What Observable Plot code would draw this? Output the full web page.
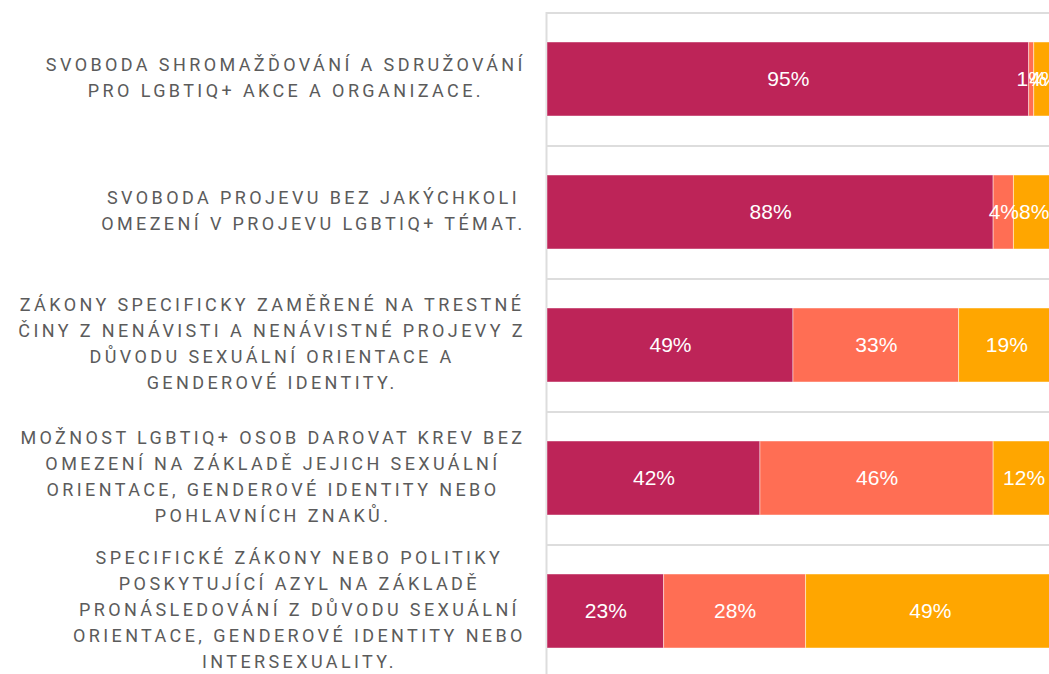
<!DOCTYPE html>
<html><head><meta charset="utf-8">
<script src="https://cdn.jsdelivr.net/npm/d3@7"></script>
<script src="https://cdn.jsdelivr.net/npm/@observablehq/plot@0.6"></script>
<style>html,body{margin:0;padding:0;background:#fff;overflow:hidden}</style>
</head><body><div id="chart"></div>
<script>
const categories = [
  "SVOBODA SHROMAŽĎOVÁNÍ A SDRUŽOVÁNÍ\nPRO LGBTIQ+ AKCE A ORGANIZACE.",
  "SVOBODA PROJEVU BEZ JAKÝCHKOLI\nOMEZENÍ V PROJEVU LGBTIQ+ TÉMAT.",
  "ZÁKONY SPECIFICKY ZAMĚŘENÉ NA TRESTNÉ\nČINY Z NENÁVISTI A NENÁVISTNÉ PROJEVY Z\nDŮVODU SEXUÁLNÍ ORIENTACE A\nGENDEROVÉ IDENTITY.",
  "MOŽNOST LGBTIQ+ OSOB DAROVAT KREV BEZ\nOMEZENÍ NA ZÁKLADĚ JEJICH SEXUÁLNÍ\nORIENTACE, GENDEROVÉ IDENTITY NEBO\nPOHLAVNÍCH ZNAKŮ.",
  "SPECIFICKÉ ZÁKONY NEBO POLITIKY\nPOSKYTUJÍCÍ AZYL NA ZÁKLADĚ\nPRONÁSLEDOVÁNÍ Z DŮVODU SEXUÁLNÍ\nORIENTACE, GENDEROVÉ IDENTITY NEBO\nINTERSEXUALITY."
];
const seriesNames = ["s1", "s2", "s3"];
const seriesColors = ["#bd2458", "#ff6e54", "#ffa600"];
const values1 = [95, 88, 49, 42, 23];
const values2 = [1, 4, 33, 46, 28];
const values3 = [4, 8, 19, 12, 49];

const seriesValues = [values1, values2, values3];
const data = [];
categories.forEach((c, i) => {
  seriesNames.forEach((s, j) => data.push({category: c, series: s, value: seriesValues[j][i]}));
});

const W = 1049, H = 674;
const yRange = [12, 677];
const xRange = [547, 1054];
const step = (yRange[1] - yRange[0]) / categories.length;
const labelFont = "Roboto, sans-serif";
const labelSize = 18;
const ls = 3.4;
const gap = 25;

const canvas = document.createElement("canvas");
const ctx = canvas.getContext("2d");
ctx.font = `${labelSize}px Roboto`;
function blockWidth(t) {
  return d3.max(t.split("\n"), line => ctx.measureText(line).width + ls * [...line].length);
}

const spacing = (index, scales, values, dims, context, next) => {
  const g = next(index, scales, values, dims, context);
  g.setAttribute("letter-spacing", ls);
  return g;
};

const labelMarks = categories.map(c => {
  const w = blockWidth(c);
  return Plot.text([c], {
    y: d => d,
    text: d => d,
    frameAnchor: "left",
    textAnchor: "middle",
    dx: -gap - w / 2 + ls,
    dy: -4,
    fontFamily: labelFont,
    fontSize: labelSize,
    lineHeight: 26 / labelSize,
    fill: "#5b5b5b",
    render: spacing
  });
});

const chart = Plot.plot({
  width: W,
  height: H,
  marginLeft: xRange[0],
  marginRight: 0,
  marginTop: yRange[0],
  marginBottom: 0,
  x: {domain: [0, 1], range: xRange, axis: null},
  y: {domain: categories, range: yRange, paddingInner: 0.444, paddingOuter: 0.222, axis: null},
  color: {domain: seriesNames, range: seriesColors},
  style: {background: "#fff"},
  marks: [
    Plot.ruleY(categories, {y: d => d, dy: -step / 2, x1: 0, x2: 1, stroke: "#dddddd", strokeWidth: 2}),
    Plot.ruleX([0], {stroke: "#dddddd", strokeWidth: 2, dx: -1}),
    Plot.barX(data, Plot.stackX({x: "value", y: "category", fill: "series", z: "series", order: seriesNames, offset: "normalize", stroke: "#ffffff", strokeOpacity: 0.45, strokeWidth: 1})),
    Plot.text(data, Plot.stackX({x: "value", y: "category", z: "series", order: seriesNames, offset: "normalize", text: d => d.value + "%", fill: "#ffffff", fontSize: 21, fontFamily: "Liberation Sans, Arial, sans-serif"})),
    ...labelMarks
  ]
});
document.getElementById("chart").appendChild(chart);
</script>
</body></html>
